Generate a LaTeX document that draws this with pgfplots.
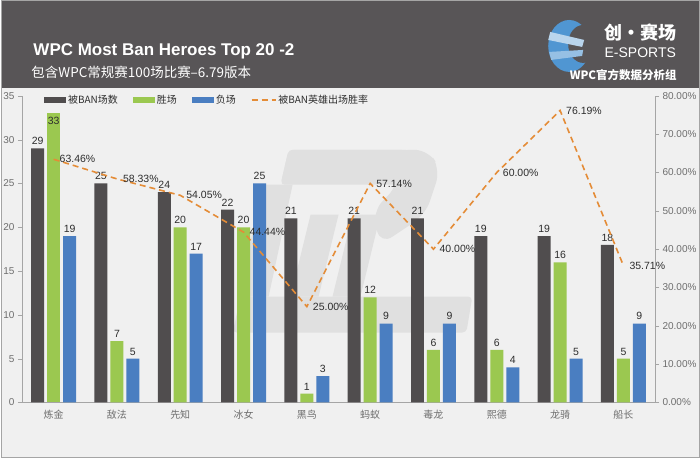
\documentclass[border=0pt]{standalone}
\usepackage{pgfplots}
\usepackage{pgfplotstable}
\pgfplotsset{compat=1.18}
\usepackage{fontspec}
\setmainfont{Liberation Sans}
\newfontfamily\cjk{Noto Sans CJK SC}

\definecolor{headc}{RGB}{88,85,87}
\definecolor{bgc}{RGB}{240,240,240}
\definecolor{wmc}{RGB}{224,224,224}
\definecolor{banc}{RGB}{80,77,78}
\definecolor{winc}{RGB}{155,200,80}
\definecolor{losec}{RGB}{74,126,193}
\definecolor{ratec}{RGB}{228,140,55}
\definecolor{tickc}{RGB}{110,110,110}
\definecolor{axc}{RGB}{165,165,165}
\definecolor{labc}{RGB}{45,45,45}
\definecolor{logoblue}{RGB}{80,150,210}

\pgfplotstableread{
idx ban win lose rate
0 29 33 19 63.46
1 25 7 5 58.33
2 24 20 17 54.05
3 22 20 25 44.44
4 21 1 3 25.00
5 21 12 9 57.14
6 21 6 9 40.00
7 19 6 4 60.00
8 19 16 5 76.19
9 18 5 9 35.71
}\data

\pgfplotsset{/pgf/number format/assume math mode=true}

\begin{document}
\begin{tikzpicture}
% background and header
\fill[bgc] (0pt,0pt) rectangle (700pt,-458pt);
\fill[headc] (0pt,0pt) rectangle (700pt,-88pt);
\draw[axc, line width=0.8pt] (0.4pt,-0.4pt) rectangle (699.6pt,-457.6pt);

% watermark (faint slanted WPL logo)
\fill[wmc, rounded corners=6pt] (288pt,-150pt) -- (410pt,-150pt) -- (280pt,-185pt) -- cycle;
\fill[wmc, rounded corners=4pt] (288pt,-150pt) -- (405pt,-150pt) -- (398pt,-185pt) -- (280pt,-185pt) -- cycle;
\fill[wmc, rounded corners=14pt] (395pt,-150pt) -- (428pt,-150pt) -- (440pt,-170pt) -- (425pt,-215pt) -- (380pt,-245pt) -- (372pt,-212pt) -- (398pt,-185pt) -- cycle;
\fill[wmc] (262pt,-185pt) -- (292pt,-185pt) -- (268pt,-297pt) -- (238pt,-297pt) -- cycle;
\fill[wmc] (310pt,-215pt) -- (338pt,-215pt) -- (318pt,-297pt) -- (290pt,-297pt) -- cycle;
\fill[wmc] (352pt,-215pt) -- (380pt,-215pt) -- (360pt,-297pt) -- (332pt,-297pt) -- cycle;
\fill[wmc, rounded corners=4pt] (240pt,-297pt) -- (472pt,-297pt) -- (466pt,-333pt) -- (232pt,-333pt) -- cycle;

% titles
\node[anchor=west, text=white, font=\bfseries\fontsize{17}{20}\selectfont] at (29pt,-51pt) {WPC Most Ban Heroes Top 20 -2};
\node[anchor=west, text=white, font=\cjk\fontsize{13.5}{16}\selectfont] at (27pt,-72pt) {包含WPC常规赛100场比赛–6.79版本};

% logo
\fill[logoblue] (569pt,-46pt) ellipse (21pt and 26pt);
\fill[headc] (583pt,-44pt) ellipse (15pt and 19pt);
\fill[white!60!logoblue] (550pt,-32pt) -- (584pt,-40pt) -- (582pt,-47pt) -- (548pt,-40pt) -- cycle;
\fill[white!40!logoblue] (549pt,-52pt) -- (583pt,-50pt) -- (582pt,-56pt) -- (551pt,-60pt) -- cycle;
\node[anchor=west, text=white, font=\cjk\bfseries\fontsize{18}{20}\selectfont] at (601pt,-33pt) {创·赛场};
\node[anchor=west, text=white, font=\fontsize{14}{16}\selectfont] at (601pt,-53pt) {E-SPORTS};
\node[anchor=east, text=white, font=\cjk\bfseries\fontsize{11.5}{14}\selectfont] at (680pt,-75pt) {WPC官方数据分析组};

\begin{axis}[
  at={(21pt,-403pt)}, anchor=south west,
  scale only axis, width=634pt, height=307pt,
  xmin=-0.5, xmax=9.5, ymin=0, ymax=35,
  axis x line*=bottom, axis y line*=left,
  axis line style={axc, -},
  ytick={0,5,...,35},
  xtick={0,...,9},
  xticklabels={炼金,敌法,先知,冰女,黑鸟,蚂蚁,毒龙,熙德,龙骑,船长},
  xticklabel style={font=\cjk\fontsize{10}{12}\selectfont, text=tickc},
  yticklabel style={font=\fontsize{10}{12}\selectfont, text=tickc},
  xtick style={draw=none},
  ytick style={axc},
  tick align=outside, major tick length=4pt,
  ybar, bar width=13pt,
  nodes near coords,
  every node near coord/.append style={font=\fontsize{10.5}{12}\selectfont, text=labc},
  legend style={at={(0.03,0.987)}, anchor=west, legend columns=-1, draw=none, fill=none,
    font=\cjk\fontsize{10}{12}\selectfont, text=labc,
    /tikz/every even column/.append style={column sep=13pt}},
]
\addplot[fill=banc, draw=none, bar shift=-16pt,
  legend image code/.code={\fill[banc] (0pt,-3pt) rectangle (22pt,3pt);}]
  table[x=idx, y=ban] \data;
\addlegendentry{被BAN场数}
\addplot[fill=winc, draw=none, bar shift=0pt, skip coords between index={0}{1},
  legend image code/.code={\fill[winc] (0pt,-3pt) rectangle (22pt,3pt);}]
  table[x=idx, y=win] \data;
\addlegendentry{胜场}
\addplot[fill=losec, draw=none, bar shift=16pt,
  legend image code/.code={\fill[losec] (0pt,-3pt) rectangle (22pt,3pt);}]
  table[x=idx, y=lose] \data;
\addlegendentry{负场}
\addplot[fill=winc, draw=none, bar shift=0pt, forget plot, skip coords between index={1}{10},
  every node near coord/.append style={anchor=north}]
  table[x=idx, y=win] \data;
\addlegendimage{ratec, line width=1.6pt, dash pattern=on 6pt off 4pt,
  legend image code/.code={\draw[ratec, line width=1.6pt, dash pattern=on 6pt off 4pt] (0pt,0pt) -- (24pt,0pt);}}
\addlegendentry{被BAN英雄出场胜率}
\end{axis}

\begin{axis}[
  at={(21pt,-403pt)}, anchor=south west,
  scale only axis, width=634pt, height=307pt,
  xmin=-0.5, xmax=9.5, ymin=0, ymax=80,
  axis x line=none, axis y line*=right,
  axis line style={axc, -},
  ytick={0,10,...,80},
  yticklabel={\pgfmathprintnumber[fixed,fixed zerofill,precision=2]{\tick}\%},
  yticklabel style={font=\fontsize{10}{12}\selectfont, text=tickc},
  ytick style={axc},
  tick align=outside, major tick length=4pt,
]
\addplot[ratec, line width=1.6pt, dash pattern=on 6pt off 4pt, mark=none,
  point meta=explicit,
  nodes near coords={\pgfmathprintnumber[fixed,fixed zerofill,precision=2]{\pgfplotspointmeta}\%},
  every node near coord/.append style={anchor=west, xshift=2pt, text=labc, font=\fontsize{10.5}{12}\selectfont}]
  table[x=idx, y=rate, meta=rate] \data;
\end{axis}
\end{tikzpicture}
\end{document}
